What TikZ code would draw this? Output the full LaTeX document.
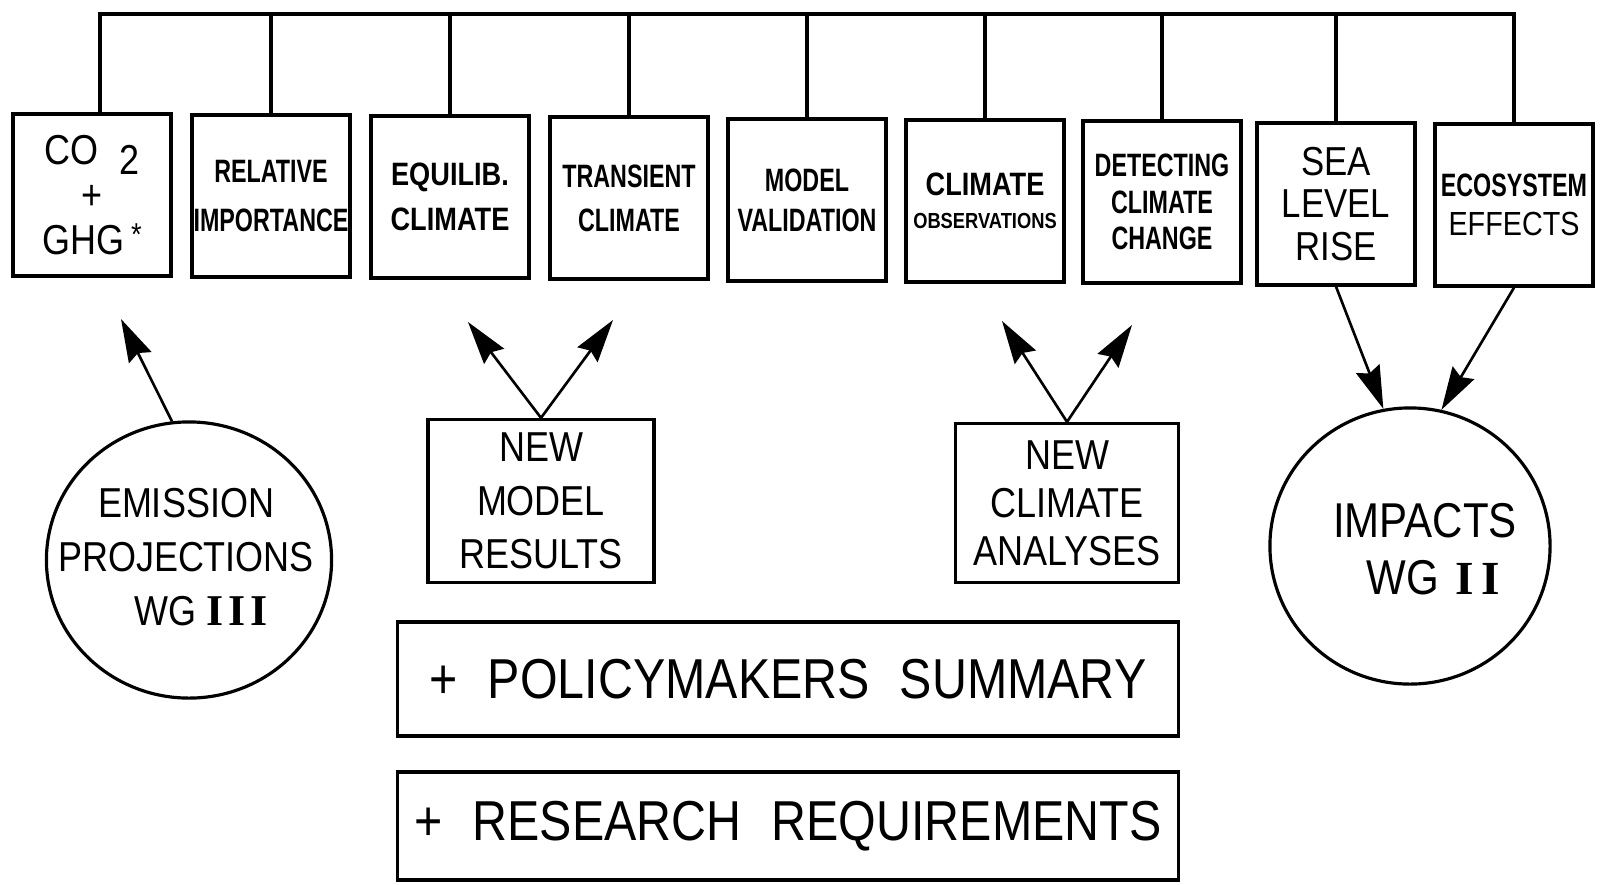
\documentclass[tikz,border=0pt]{standalone}
\usepackage{fontspec}
\setmainfont{Liberation Sans}[FakeStretch=0.86]
\newfontfamily\tagfont{Liberation Sans}[FakeStretch=0.72]
\newfontfamily\tagwide{Liberation Sans}[FakeStretch=0.84]
\newfontfamily\romfont{Liberation Serif}
\usetikzlibrary{arrows.meta}
\usetikzlibrary{shapes.geometric}

\tikzset{
	wire/.style={line width=0.9pt},
	arr/.style={line width=0.75pt, -{Stealth[length=0.43cm, width=0.25cm, inset=0.05cm]}},
	topbox/.style={draw, line width=0.9pt, minimum width=1.58cm, minimum height=1.62cm,
		inner sep=0pt, align=center, font=\tagfont\bfseries\fontsize{9.2}{12.5}\selectfont},
	tagskip/.style={font=\tagfont\bfseries\fontsize{9.2}{#1}\selectfont},
	wgbox/.style={draw, line width=0.9pt, inner sep=0pt, align=center,
		font=\fontsize{11.9}{15.2}\selectfont},
	wgring/.style={draw, ellipse, line width=0.9pt, inner sep=0pt,
		minimum width=2.85cm, minimum height=2.76cm},
	wgtext/.style={inner sep=0pt, align=center, font=\fontsize{11.9}{15.4}\selectfont},
	bigbox/.style={draw, line width=0.9pt, inner sep=0pt, minimum width=7.8cm,
		font=\fontsize{16}{18}\selectfont}
}

\begin{document}
\begin{tikzpicture}[x=0.01cm, y=-0.01cm]
	\useasboundingbox (0,0) rectangle (1603,884);
	
	% top row: one box per chapter
	\node[topbox, font=\fontsize{11.9}{12.8}\selectfont] (co2) at (92,195)
		{CO\hspace{6pt}\raisebox{-3pt}{2}\\+\\GHG\,\raisebox{2.5pt}{\fontsize{9}{9}\selectfont*}};
	\node[topbox, tagskip=14.2pt] (rel) at (271,196) {RELATIVE\\IMPORTANCE};
	\node[topbox, font=\tagwide\bfseries\fontsize{9.2}{12.8}\selectfont] (equ) at (450,197) {EQUILIB.\\CLIMATE};
	\node[topbox] (tra) at (629,198) {TRANSIENT\\CLIMATE};
	\node[topbox, tagskip=11.4pt] (val) at (807,200) {MODEL\\VALIDATION};
	\node[topbox, font=\tagwide\bfseries\fontsize{9.2}{9.4}\selectfont] (obs) at (985,201)
		{CLIMATE\\{\fontsize{6.2}{7}\selectfont OBSERVATIONS}};
	\node[topbox, tagskip=10.3pt] (det) at (1162,202) {DETECTING\\CLIMATE\\CHANGE};
	\node[topbox, font=\fontsize{11.5}{12}\selectfont] (sea) at (1336,204) {SEA\\LEVEL\\RISE};
	\node[topbox, font=\fontsize{9.5}{11}\selectfont] (eco) at (1514,205)
		{{\tagfont\bfseries\fontsize{9.2}{11}\selectfont ECOSYSTEM}\\EFFECTS};
	
	% bus over the top row
	\coordinate (bus) at (0,14);
	\coordinate (co2top) at ([xshift=0.08cm]co2.north);
	\draw[wire] (co2top) -- (co2top |- bus) -- (eco.north |- bus) -- (eco.north);
	\foreach \n in {rel,equ,tra,val,obs,det,sea}
		\draw[wire] (\n.north) -- (\n.north |- bus);
	
	% working groups
	\node[wgring] (emis) at (189,560) {};
	\node[wgtext] (emislab) at (186,557)
		{EMISSION\\PROJECTIONS\\\hspace*{0.3cm}WG\hspace{2.8pt}{\romfont\bfseries\fontsize{12.5}{10}\selectfont I\kern1.4pt I\kern1.4pt I}};
	\node[wgring, minimum width=2.8cm] (imp) at (1410,546) {};
	\node[wgtext, font=\fontsize{13.9}{16.2}\selectfont] (implab) at (1425,549)
		{IMPACTS\\\hspace*{0.16cm}WG\hspace{4.8pt}{\romfont\bfseries\fontsize{13.5}{11}\selectfont I\kern2pt I}};
	
	% new results
	\node[wgbox, minimum width=2.26cm, minimum height=1.63cm] (newmod) at (541,501) {NEW\\MODEL\\RESULTS};
	\node[wgbox, minimum width=2.23cm, minimum height=1.59cm, font=\fontsize{11.9}{13.7}\selectfont] (newcli) at (1067,503)
		{NEW\\CLIMATE\\ANALYSES};
	
	% extras
	\node[bigbox, minimum height=1.14cm] (policy) at (788,679)
		{+\hspace{0.3cm}POLICYMAKERS\hspace{0.3cm}SUMMARY};
	\node[bigbox, minimum height=1.08cm] (research) at (788,826)
		{+\hspace{0.3cm}RESEARCH\hspace{0.3cm}REQUIREMENTS};
	
	% arrows
	\coordinate (emtip) at (121,319);
	\coordinate (mtipl) at (468,322);
	\coordinate (mtipr) at (613,320);
	\coordinate (ctipl) at (1002,321);
	\coordinate (ctipr) at (1132,325);
	\draw[arr] (emis.97) -- (emtip);
	\draw[arr] (newmod.north) -- (mtipl);
	\draw[arr] (newmod.north) -- (mtipr);
	\draw[arr] (newcli.north) -- (ctipl);
	\draw[arr] (newcli.north) -- (ctipr);
	\draw[arr] (sea.south) -- (imp.101);
	\draw[arr] (eco.south) -- (imp.77);
	
\end{tikzpicture}
\end{document}
